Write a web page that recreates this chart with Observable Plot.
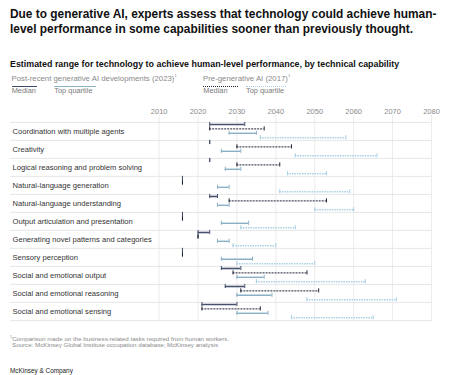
<!DOCTYPE html>
<html><head><meta charset="utf-8">
<script src="https://cdn.jsdelivr.net/npm/d3@7"></script>
<script src="https://cdn.jsdelivr.net/npm/@observablehq/plot@0.6"></script>
<style>
body{margin:0;background:#fff;font-family:"Liberation Sans",Arial,sans-serif;}
#wrap{position:relative;width:450px;height:375px;overflow:hidden;background:#fff}
.abs{position:absolute;white-space:nowrap;line-height:1}
.title{left:10px;top:7.2px;font-size:11.9px;font-weight:bold;line-height:15px;color:#111}
.sub{left:10px;top:60.3px;font-size:8.9px;font-weight:bold;color:#111}
.lh{font-size:7.8px;color:#8a8a8a}
.lbl{font-size:7.4px;color:#7a7a7a}
.ln{position:absolute;height:0}
.foot{font-size:6.2px;color:#8a8a8a}
.brand{font-size:6.4px;color:#222}
#chart{position:absolute;left:0;top:100px}
</style></head>
<body><div id="wrap">
<div class="abs title">Due to generative AI, experts assess that technology could achieve human-<br>level performance in some capabilities sooner than previously thought.</div>
<div class="abs sub">Estimated range for technology to achieve human-level performance, by technical capability</div>
<div class="abs lh" style="left:11.5px;top:74px">Post-recent generative AI developments (2023)<sup style="font-size:4px">1</sup></div>
<div class="abs lh" style="left:203px;top:74px">Pre-generative AI (2017)<sup style="font-size:4px">1</sup></div>
<div class="ln" style="left:11.7px;width:25px;top:85.5px;border-top:1.3px solid #3d4a6b"></div>
<div class="ln" style="left:54.3px;width:41.7px;top:85.5px;border-top:1.3px solid #8ab0c5"></div>
<div class="ln" style="left:203.3px;width:35px;top:85.5px;border-top:1.2px dotted #1e2235"></div>
<div class="ln" style="left:246px;width:40px;top:85.5px;border-top:1.2px dotted #a9d0e4"></div>
<div class="abs lbl" style="left:11.7px;top:87.2px">Median</div>
<div class="abs lbl" style="left:54.3px;top:87.2px">Top quartile</div>
<div class="abs lbl" style="left:203.3px;top:87.2px">Median</div>
<div class="abs lbl" style="left:246px;top:87.2px">Top quartile</div>
<div id="chart"></div>
<div class="abs foot" style="left:10px;top:336.3px"><sup style="font-size:3.8px">1</sup>Comparison made on the business-related tasks required from human workers.</div>
<div class="abs foot" style="left:12px;top:342.3px">Source: McKinsey Global Institute occupation database; McKinsey analysis</div>
<div class="abs brand" style="left:10px;top:367.6px">McKinsey &amp; Company</div>
</div>
<script>
const categories = [
  "Coordination with multiple agents",
  "Creativity",
  "Logical reasoning and problem solving",
  "Natural-language generation",
  "Natural-language understanding",
  "Output articulation and presentation",
  "Generating novel patterns and categories",
  "Sensory perception",
  "Social and emotional output",
  "Social and emotional reasoning",
  "Social and emotional sensing"
];
const median2023 = [[2023,2032],[2023,2023],[2023,2023],[2016,2016],[2023,2025],[2016,2016],[2020,2023],[2016,2016],[2026,2031],[2027,2032],[2021,2030]];
const median2017 = [[2023,2037],[2030,2044],[2030,2041],[2016,2016],[2028,2053],[2016,2016],[2020,2020],[2016,2016],[2029,2048],[2031,2051],[2021,2036]];
const topQuartile2023 = [[2028,2035],[2026,2031],[2027,2031],[2025,2028],[2025,2028],[2026,2033],[2025,2028],[2026,2034],[2030,2037],[2030,2039],[2030,2038]];
const topQuartile2017 = [[2036,2058],[2045,2066],[2043,2053],[2041,2059],[2050,2060],[2031,2045],[2029,2040],[2030,2050],[2035,2063],[2048,2071],[2044,2065]];
const yearTicks = [2010,2020,2030,2040,2050,2060,2070,2080];

const W = 450, H = 230, mT = 15, mB = 8.3, insT = 5.7;
const rowH = (H - mT - mB - insT) / categories.length;
const series = [
  {values: median2023, stroke: "#44506e", sw: 1.6, dash: null, dy: -7},
  {values: median2017, stroke: "#1e2235", sw: 1, dash: "2,1", dy: -2.6},
  {values: topQuartile2023, stroke: "#8ab0c5", sw: 1.4, dash: null, dy: 1.8},
  {values: topQuartile2017, stroke: "#a9d0e4", sw: 1.4, dash: "1.5,1", dy: 6.2}
];
const marks = [
  Plot.ruleX(yearTicks, {x: d => d, stroke: "#ececec", strokeWidth: 1}),
  Plot.ruleY(categories, {y: d => d, dy: -rowH / 2, stroke: "#e6e6e6"}),
  Plot.ruleY(categories.slice(-1), {y: d => d, dy: rowH / 2, stroke: "#e6e6e6"}),
  Plot.text(categories, {y: d => d, frameAnchor: "left", textAnchor: "start", dx: 2, fontSize: 7.6, fill: "#333"})
];
for (const s of series) {
  const rows = categories.map((c, i) => ({cat: c, start: s.values[i][0], end: s.values[i][1]}));
  const caps = rows.flatMap(r => [{cat: r.cat, x: r.start}, {cat: r.cat, x: r.end}]);
  marks.push(Plot.ruleY(rows, {x1: "start", x2: "end", y: "cat", dy: s.dy, stroke: s.stroke, strokeWidth: s.sw, strokeDasharray: s.dash}));
  const c = rowH / 2 + s.dy;
  marks.push(Plot.tickX(caps, {x: "x", y: "cat", stroke: s.stroke, strokeWidth: 1, insetTop: c - 2.2, insetBottom: rowH - (c + 2.2)}));
}
const chart = Plot.plot({
  width: W, height: H,
  marginLeft: 10, marginRight: 19, marginTop: mT, marginBottom: mB,
  style: {fontFamily: "Liberation Sans, Arial, sans-serif", fontSize: "7.5px", color: "#8a8a8a", background: "transparent"},
  x: {domain: [1971.8, 2080], axis: "top", ticks: yearTicks, tickSize: 0, tickPadding: 2, tickFormat: d => String(d), label: null},
  y: {domain: categories, axis: null, insetTop: insT, padding: 0},
  marks
});
document.getElementById("chart").appendChild(chart);
</script>
</body></html>
